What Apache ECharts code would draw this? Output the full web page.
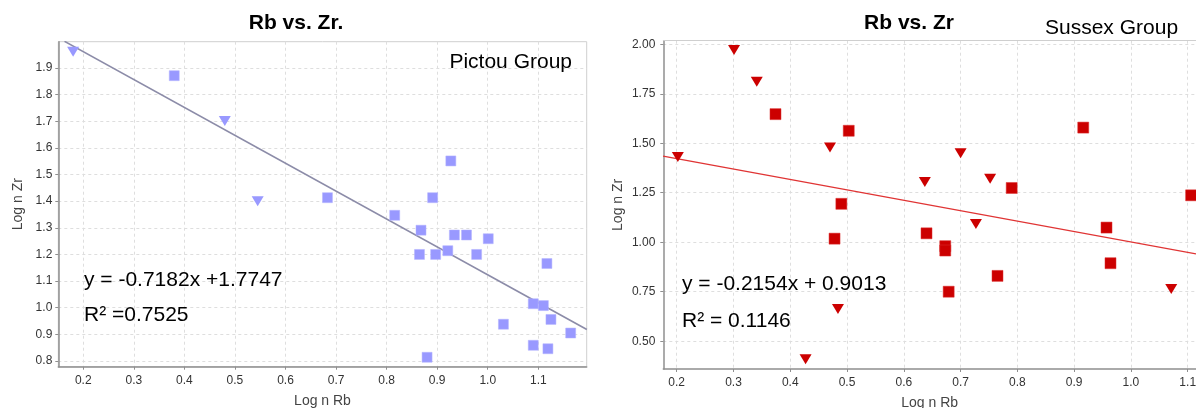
<!DOCTYPE html>
<html><head><meta charset="utf-8">
<script src="https://cdn.jsdelivr.net/npm/echarts@6/dist/echarts.min.js"></script>
<style>html,body{margin:0;padding:0;background:#fff}#c{width:1196px;height:408px}</style>
</head><body><div id="c"></div>
<script>
// ---- data ----
const pictouSquares = [[0.380,1.871],[0.683,1.413],[0.816,1.347],[0.868,1.291],[0.891,1.413],[0.927,1.551],[0.865,1.200],[0.897,1.200],[0.921,1.214],[0.934,1.273],[0.958,1.273],[0.978,1.200],[1.001,1.259],[1.117,1.166],[1.090,1.015],[1.110,1.008],[1.125,0.956],[1.031,0.938],[1.164,0.905],[1.090,0.859],[1.119,0.846],[0.880,0.814]];
const pictouTriangles = [[0.180,1.961],[0.480,1.701],[0.545,1.400]];
const pictouTrend = [[0.163,2.0],[1.196,0.918]];
const sussexSquares = [[0.374,1.647],[0.503,1.563],[0.490,1.194],[0.478,1.018],[0.640,1.045],[0.673,0.980],[0.673,0.958],[0.679,0.750],[0.765,0.830],[0.790,1.274],[0.916,1.579],[0.957,1.074],[0.964,0.894],[1.106,1.237]];
const sussexTriangles = [[0.202,1.431],[0.301,1.971],[0.341,1.811],[0.470,1.478],[0.637,1.304],[0.700,1.449],[0.752,1.321],[0.727,1.092],[0.484,0.663],[0.427,0.409],[1.071,0.764]];
const sussexTrend = [[0.176,1.435],[1.1146,0.941]];
const pictouXTicks = [0.2,0.3,0.4,0.5,0.6,0.7,0.8,0.9,1.0,1.1];
const pictouYTicks = [0.8,0.9,1.0,1.1,1.2,1.3,1.4,1.5,1.6,1.7,1.8,1.9];
const sussexXTicks = [0.2,0.3,0.4,0.5,0.6,0.7,0.8,0.9,1.0,1.1];
const sussexYTicks = [0.5,0.75,1.0,1.25,1.5,1.75,2.0];
const titles = ['Rb vs. Zr.', 'Rb vs. Zr'];
const groups = ['Pictou Group', 'Sussex Group'];
const equations = [['y = -0.7182x +1.7747', 'R\u00b2 =0.7525'], ['y = -0.2154x + 0.9013', 'R\u00b2 = 0.1146']];
const xName = 'Log n Rb', yName = 'Log n Zr';

const FONT = '"Liberation Sans", Arial, sans-serif';
const chart = echarts.init(document.getElementById('c'));

function xAxis(gi, min, max, ticks, gap) {
  return {
    type: 'value', gridIndex: gi, min: min, max: max,
    name: xName, nameLocation: 'middle', nameGap: gap,
    nameTextStyle: {fontFamily: FONT, fontSize: 14, color: '#444'},
    axisLine: {show: true, lineStyle: {color: '#8f8f8f', width: 1.5}},
    axisTick: {show: true, length: 3, lineStyle: {color: '#8f8f8f'}, customValues: ticks},
    axisLabel: {fontFamily: FONT, fontSize: 12, color: '#333', margin: 8, customValues: ticks,
      formatter: v => v.toFixed(1)},
    splitLine: {show: true, lineStyle: {color: '#dedede', type: [3, 3]}}
  };
}
function yAxis(gi, min, max, ticks, gap, dec, margin) {
  return {
    type: 'value', gridIndex: gi, min: min, max: max,
    name: yName, nameLocation: 'middle', nameGap: gap,
    nameTextStyle: {fontFamily: FONT, fontSize: 14, color: '#444'},
    axisLine: {show: true, lineStyle: {color: '#8f8f8f', width: 1.5}},
    axisTick: {show: true, length: 3, lineStyle: {color: '#8f8f8f'}, customValues: ticks},
    axisLabel: {fontFamily: FONT, fontSize: 12, color: '#333', margin: margin, customValues: ticks,
      formatter: v => v.toFixed(dec)},
    splitLine: {show: true, lineStyle: {color: '#dedede', type: [3, 3]}}
  };
}
function text(t, x, y, size, weight, align) {
  return {type: 'text', x: x, y: y, z: 100, style: {text: t, fontFamily: FONT, fontSize: size,
    fontWeight: weight, fill: '#000', align: align, verticalAlign: 'middle'}};
}

chart.setOption({
  backgroundColor: '#fff',
  animation: false,
  grid: [
    {left: 58.3, right: 609.3, top: 41.7, bottom: 41.3, outerBoundsMode: 'none', containLabel: false,
      show: true, borderColor: '#cfcfcf', borderWidth: 1},
    {left: 663.3, right: 0, top: 40.7, bottom: 39, outerBoundsMode: 'none', containLabel: false}
  ],
  xAxis: [
    xAxis(0, 0.1507, 1.1957, pictouXTicks, 27),
    xAxis(1, 0.1764, 1.1146, sussexXTicks, 27),
    {type: 'value', gridIndex: 1, position: 'top', min: 0.1764, max: 1.1146,
      axisLine: {show: true, lineStyle: {color: '#cfcfcf', width: 1}},
      axisTick: {show: false}, axisLabel: {show: false}, splitLine: {show: false}}
  ],
  yAxis: [
    yAxis(0, 0.7786, 1.9986, pictouYTicks, 33, 1, 6),
    yAxis(1, 0.3596, 2.018, sussexYTicks, 38, 2, 8)
  ],
  series: [
    {type: 'line', xAxisIndex: 0, yAxisIndex: 0, data: pictouTrend, symbol: 'none', clip: true,
      lineStyle: {color: '#8c8ca8', width: 1.6}, z: 1},
    {type: 'scatter', xAxisIndex: 0, yAxisIndex: 0, data: pictouSquares, symbol: 'rect', symbolSize: 10,
      itemStyle: {color: '#9999ff', opacity: 1, borderColor: '#b4b4ff', borderWidth: 0.5}, z: 3},
    {type: 'scatter', xAxisIndex: 0, yAxisIndex: 0, data: pictouTriangles, symbol: 'triangle', symbolRotate: 180,
      symbolSize: [12, 10], itemStyle: {color: '#9999ff', opacity: 1}, z: 3},
    {type: 'line', xAxisIndex: 1, yAxisIndex: 1, data: sussexTrend, symbol: 'none', clip: true,
      lineStyle: {color: '#e03434', width: 1.4}, z: 1},
    {type: 'scatter', xAxisIndex: 1, yAxisIndex: 1, data: sussexSquares, symbol: 'rect', symbolSize: 11,
      itemStyle: {color: '#cc0000', opacity: 1, borderColor: '#dd3030', borderWidth: 0.5}, z: 3},
    {type: 'scatter', xAxisIndex: 1, yAxisIndex: 1, data: sussexTriangles, symbol: 'triangle', symbolRotate: 180,
      symbolSize: [12, 10], itemStyle: {color: '#cc0000', opacity: 1}, z: 3}
  ],
  graphic: [
    text(titles[0], 296, 23, 21, 'bold', 'center'),
    text(titles[1], 909, 23, 21, 'bold', 'center'),
    text(groups[0], 572, 62.5, 21, 'normal', 'right'),
    text(groups[1], 1045, 28.5, 21, 'normal', 'left'),
    text(equations[0][0], 84, 280, 21, 'normal', 'left'),
    text(equations[0][1], 84, 315.5, 21, 'normal', 'left'),
    text(equations[1][0], 682, 284.5, 21, 'normal', 'left'),
    text(equations[1][1], 682, 321, 21, 'normal', 'left')
  ]
});
</script></body></html>
